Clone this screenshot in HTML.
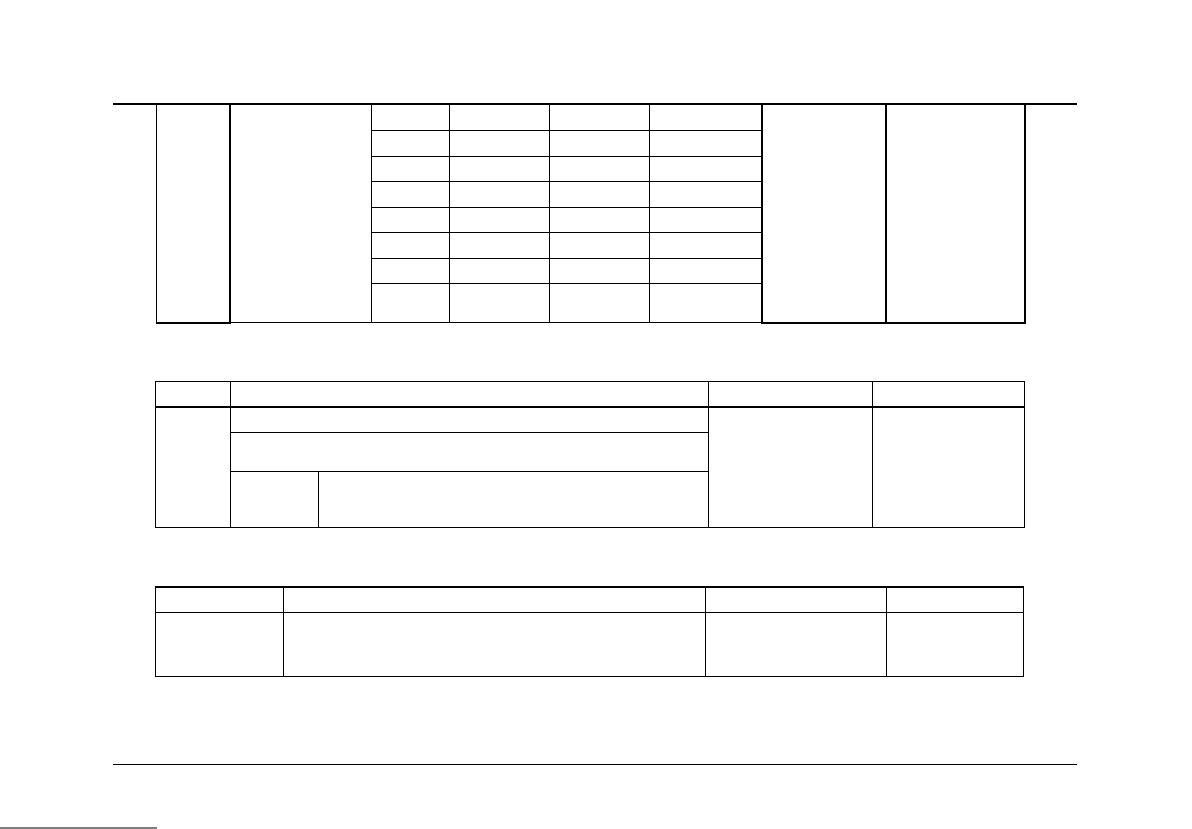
<!DOCTYPE html>
<html><head><meta charset="utf-8"><style>html,body{margin:0;padding:0;background:#fff;width:1192px;height:829px;overflow:hidden}</style></head>
<body>
<svg width="1192" height="829" viewBox="0 0 1192 829" xmlns="http://www.w3.org/2000/svg" stroke="#000" fill="none" shape-rendering="crispEdges">
<!-- page rules -->
<line x1="113" y1="104" x2="1077" y2="104" stroke-width="2"/>
<line x1="113" y1="764.5" x2="1077" y2="764.5" stroke-width="1"/>
<line x1="0" y1="828" x2="157" y2="828" stroke-width="1"/>
<!-- table 1 -->
<line x1="156.5" y1="104" x2="156.5" y2="323" stroke-width="1"/>
<line x1="230" y1="104" x2="230" y2="324" stroke-width="2"/>
<line x1="156" y1="323" x2="231" y2="323" stroke-width="2"/>
<line x1="230" y1="322.5" x2="762" y2="322.5" stroke-width="1"/>
<line x1="371.5" y1="104" x2="371.5" y2="323" stroke-width="1"/>
<line x1="449.5" y1="104" x2="449.5" y2="323" stroke-width="1"/>
<line x1="549.5" y1="104" x2="549.5" y2="323" stroke-width="1"/>
<line x1="649.5" y1="104" x2="649.5" y2="323" stroke-width="1"/>
<g stroke-width="1">
<line x1="372" y1="130.5" x2="762" y2="130.5"/>
<line x1="372" y1="156.5" x2="762" y2="156.5"/>
<line x1="372" y1="181.5" x2="762" y2="181.5"/>
<line x1="372" y1="207.5" x2="762" y2="207.5"/>
<line x1="372" y1="232.5" x2="762" y2="232.5"/>
<line x1="372" y1="258.5" x2="762" y2="258.5"/>
<line x1="372" y1="283.5" x2="762" y2="283.5"/>
</g>
<line x1="762" y1="104" x2="762" y2="324" stroke-width="2"/>
<line x1="886" y1="104" x2="886" y2="324" stroke-width="2"/>
<line x1="1025" y1="104" x2="1025" y2="324" stroke-width="2"/>
<line x1="761" y1="323" x2="1026" y2="323" stroke-width="2"/>
<!-- table 2 -->
<g stroke-width="1">
<line x1="155.5" y1="381.5" x2="1024.5" y2="381.5"/>
<line x1="155.5" y1="381" x2="155.5" y2="528"/>
<line x1="230.5" y1="381" x2="230.5" y2="528"/>
<line x1="708.5" y1="381" x2="708.5" y2="528"/>
<line x1="872.5" y1="381" x2="872.5" y2="528"/>
<line x1="1024.5" y1="381" x2="1024.5" y2="528"/>
<line x1="230.5" y1="432.5" x2="708.5" y2="432.5"/>
<line x1="230.5" y1="471.5" x2="708.5" y2="471.5"/>
<line x1="318.5" y1="471.5" x2="318.5" y2="528"/>
<line x1="155.5" y1="527.5" x2="1024.5" y2="527.5"/>
</g>
<line x1="155" y1="407" x2="1025" y2="407" stroke-width="2"/>
<!-- table 3 -->
<line x1="155" y1="587" x2="1024" y2="587" stroke-width="2"/>
<g stroke-width="1">
<line x1="155.5" y1="612.5" x2="1023.5" y2="612.5"/>
<line x1="155.5" y1="586" x2="155.5" y2="677"/>
<line x1="283.5" y1="586" x2="283.5" y2="677"/>
<line x1="705.5" y1="586" x2="705.5" y2="677"/>
<line x1="886.5" y1="586" x2="886.5" y2="677"/>
<line x1="1023.5" y1="586" x2="1023.5" y2="677"/>
<line x1="155.5" y1="676.5" x2="1023.5" y2="676.5"/>
</g>
</svg>
</body></html>
